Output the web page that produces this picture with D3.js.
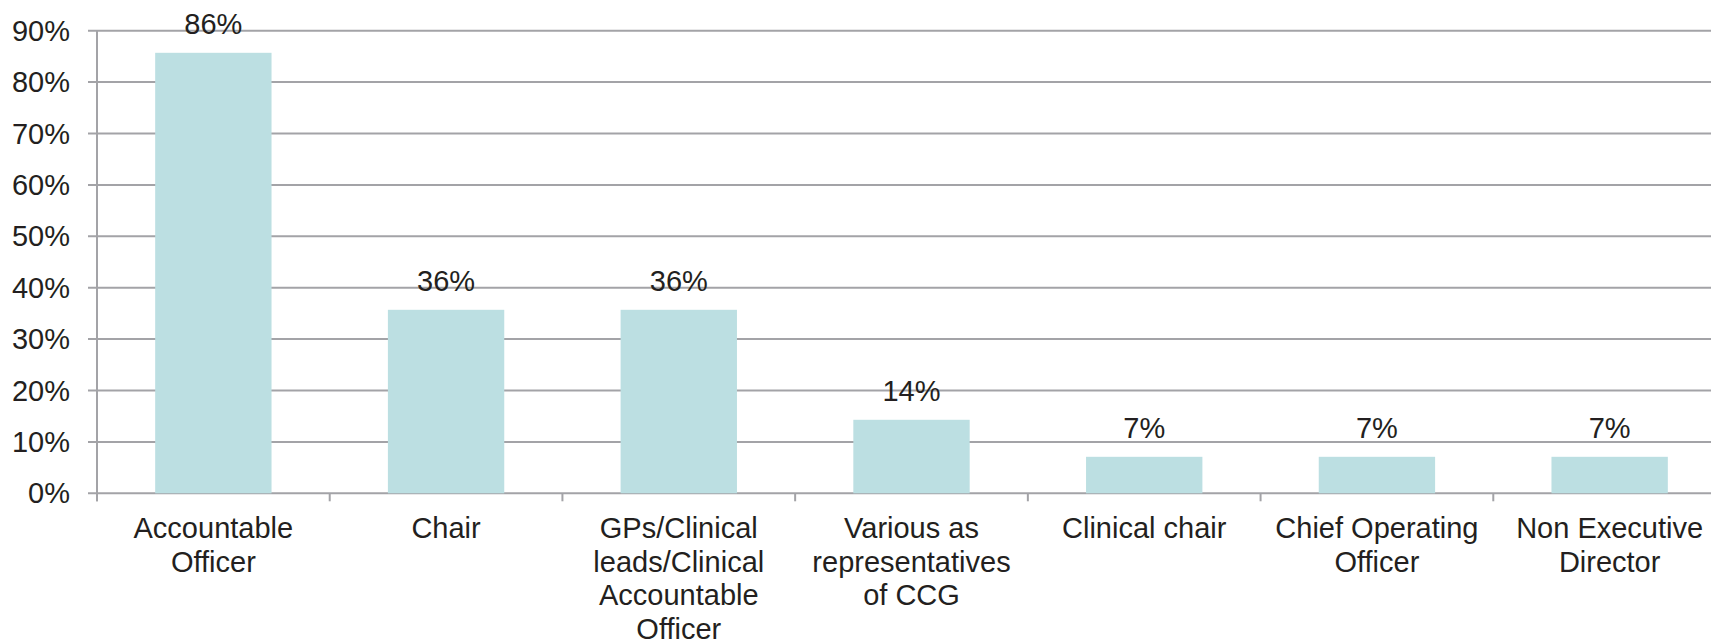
<!DOCTYPE html>
<html>
<head>
<meta charset="utf-8">
<script src="https://cdn.jsdelivr.net/npm/d3@7"></script>
<style>
    body { margin: 0; background: #fff; }
    svg { display: block; font-family: "Liberation Sans", Arial, sans-serif; }
</style>
</head>
<body>
<div id="chart"></div>
<script>
// data (14 respondents -> 1/14 steps)
var categories = ["Accountable Officer", "Chair", "GPs/Clinical leads/Clinical Accountable Officer",
                  "Various as representatives of CCG", "Clinical chair", "Chief Operating Officer",
                  "Non Executive Director"];
var values = [85.7, 35.7, 35.7, 14.3, 7.1, 7.1, 7.1];
var valueLabels = ["86%", "36%", "36%", "14%", "7%", "7%", "7%"];
var yTicks = [0, 10, 20, 30, 40, 50, 60, 70, 80, 90];

var width = 1711, height = 640;
var plotLeft = 97, plotRight = 1726, plotTop = 30.7, plotBottom = 493.3;
var gridColor = "#a3a3a7", textColor = "#231f20", barColor = "#bcdfe2";
var fontSize = 29;

var svg = d3.select("#chart").append("svg")
    .attr("width", width)
    .attr("height", height);

var x = d3.scaleBand()
    .domain(categories)
    .range([plotLeft, plotRight])
    .paddingInner(0.5)
    .paddingOuter(0.25);

var y = d3.scaleLinear()
    .domain([0, 90])
    .range([plotBottom, plotTop]);

// horizontal gridlines + y tick marks
svg.append("g")
    .selectAll("line")
    .data(yTicks)
    .enter()
    .append("line")
        .attr("x1", plotLeft - 9)
        .attr("x2", plotRight)
        .attr("y1", function(d) { return y(d); })
        .attr("y2", function(d) { return y(d); })
        .attr("stroke", gridColor)
        .attr("stroke-width", 2);

// y axis labels
svg.append("g")
    .selectAll("text")
    .data(yTicks)
    .enter()
    .append("text")
        .attr("x", plotLeft - 27)
        .attr("y", function(d) { return y(d); })
        .attr("dy", "0.35em")
        .attr("text-anchor", "end")
        .attr("fill", textColor)
        .style("font-size", fontSize + "px")
        .text(function(d) { return d + "%"; });

// bars
svg.append("g")
    .selectAll("rect")
    .data(values)
    .enter()
    .append("rect")
        .attr("x", function(d, i) { return x(categories[i]); })
        .attr("y", function(d) { return y(d); })
        .attr("width", x.bandwidth())
        .attr("height", function(d) { return plotBottom - y(d); })
        .attr("fill", barColor);

// y axis line
svg.append("line")
    .attr("x1", plotLeft).attr("x2", plotLeft)
    .attr("y1", plotTop).attr("y2", plotBottom + 8)
    .attr("stroke", gridColor)
    .attr("stroke-width", 2);

// x axis tick marks at category boundaries
var step = x.step();
var boundaries = categories.map(function(c) { return x(c) - x.paddingOuter() * step; });
boundaries.push(plotRight);
svg.append("g")
    .selectAll("line")
    .data(boundaries)
    .enter()
    .append("line")
        .attr("x1", function(d) { return d; })
        .attr("x2", function(d) { return d; })
        .attr("y1", plotBottom)
        .attr("y2", plotBottom + 8)
        .attr("stroke", gridColor)
        .attr("stroke-width", 2);

// value labels
svg.append("g")
    .selectAll("text")
    .data(values)
    .enter()
    .append("text")
        .attr("x", function(d, i) { return x(categories[i]) + x.bandwidth() / 2; })
        .attr("y", function(d) { return y(d) - 19; })
        .attr("text-anchor", "middle")
        .attr("fill", textColor)
        .style("font-size", fontSize + "px")
        .text(function(d, i) { return valueLabels[i]; });

// category labels, wrapped word by word
var catText = svg.append("g")
    .selectAll("text")
    .data(categories)
    .enter()
    .append("text")
        .attr("x", function(d) { return x(d) + x.bandwidth() / 2; })
        .attr("y", 538)
        .attr("text-anchor", "middle")
        .attr("fill", textColor)
        .style("font-size", fontSize + "px");

catText.each(function(d) {
    var text = d3.select(this);
    var cx = text.attr("x");
    var words = d.split(" ");
    var line = [];
    var tspan = text.append("tspan").attr("x", cx).attr("dy", 0);
    words.forEach(function(w) {
        line.push(w);
        tspan.text(line.join(" "));
        if (tspan.node().getComputedTextLength() > 215 && line.length > 1) {
            line.pop();
            tspan.text(line.join(" "));
            line = [w];
            tspan = text.append("tspan").attr("x", cx).attr("dy", "33.5px").text(w);
        }
    });
});
</script>
</body>
</html>
